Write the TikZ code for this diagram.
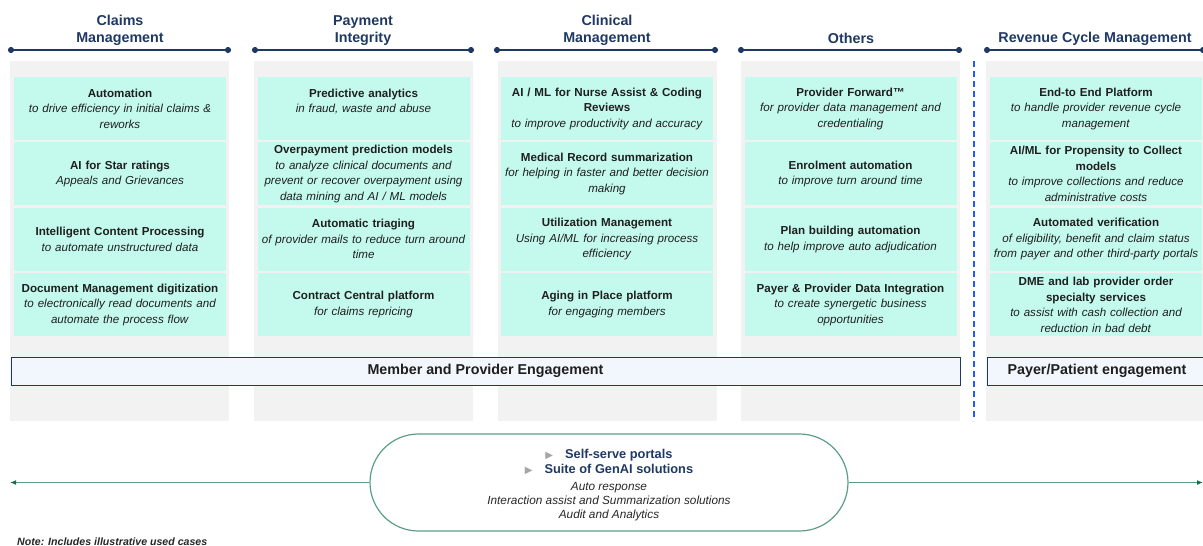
\documentclass[tikz,border=0pt]{standalone}
\usepackage{fontspec}
\setmainfont{Liberation Sans}
\newfontfamily\symfont{DejaVu Sans}
\usetikzlibrary{positioning}
\usetikzlibrary{arrows.meta}
\usetikzlibrary{shapes.misc}

\definecolor{navy}{HTML}{1F3864}
\definecolor{laneGray}{HTML}{F2F2F2}
\definecolor{caseTeal}{HTML}{C4F9EE}
\definecolor{bandBlue}{HTML}{F2F6FD}
\definecolor{sepBlue}{HTML}{1F5BFF}
\definecolor{flowGreen}{HTML}{5A9E89}
\definecolor{tipGreen}{HTML}{1E6B4F}
\definecolor{bulletGray}{HTML}{A6A6A6}

\newcommand{\genaiitem}[1]{{\symfont\color{bulletGray}\fontsize{10}{10}\selectfont ▶}\hspace{12pt}{\bfseries\color{navy}#1}}

\begin{document}
\begin{tikzpicture}[x=1pt, y=-1pt,
    lane/.style={fill=laneGray, minimum width=219pt, minimum height=360pt, inner sep=0pt, anchor=north},
    usecase/.style={fill=caseTeal, text width=211pt, inner xsep=0.5pt, inner ysep=0pt, minimum height=63pt, align=center, text=black!88, font=\fontsize{11.6}{15.5}\selectfont},
    head/.style={text=navy, align=center, font=\fontsize{14.3}{17}\selectfont\bfseries},
    rule/.style={navy, line width=1.6pt, {Circle[length=6pt]}-{Circle[length=6pt]}},
    band/.style={draw=navy, fill=bandBlue, line width=0.8pt, minimum height=28pt, inner sep=0pt, text=black!88, font=\fontsize{14.3}{16}\selectfont\bfseries},
    flow/.style={flowGreen, line width=1.2pt, -{Latex[length=6pt, width=5pt, color=tipGreen]}}
]

\useasboundingbox (0,0) rectangle (1203,546);

% Lanes
\node[lane] (lane1) at (119.5,61) {};
\node[lane] (lane2) at (363.5,61) {};
\node[lane] (lane3) at (607.5,61) {};
\node[lane] (lane4) at (850.5,61) {};
\node[lane] (lane5) at (1095.5,61) {};

% Headings
\node[head] (hclaims) at (120,30.5) {Claims\\Management};
\node[head] (hpay) at (363,30.5) {Payment\\Integrity};
\node[head] (hclin) at (607,30.5) {Clinical\\Management};
\node[head] (hothers) at (851,38.5) {Others};
\node[head] (hrcm) at (1095,38.5) {Revenue Cycle Management};

% Heading rules
\draw[rule] (8,50) -- (231,50);
\draw[rule] (252,50) -- (474,50);
\draw[rule] (494,50) -- (718,50);
\draw[rule] (738,50) -- (962,50);
\draw[rule] (984,50) -- (1206,50);

% Claims Management
\node[usecase] (cm1) at (120,108.5) {\textbf{Automation}\\\textit{to drive efficiency in initial claims \&\\reworks}};
\node[usecase, below=2pt of cm1] (cm2) {\textbf{AI for Star ratings}\\\textit{Appeals and Grievances}};
\node[usecase, below=2pt of cm2] (cm3) {\textbf{Intelligent Content Processing}\\\textit{to automate unstructured data}};
\node[usecase, below=2pt of cm3] (cm4) {\textbf{Document Management digitization}\\\textit{to electronically read documents and\\automate the process flow}};

% Payment Integrity
\node[usecase] (pi1) at (363.5,108.5) {\textbf{Predictive analytics}\\\textit{in fraud, waste and abuse}\\~};
\node[usecase, below=2pt of pi1] (pi2) {\textbf{Overpayment prediction models}\\\textit{to analyze clinical documents and\\prevent or recover overpayment using\\data mining and AI / ML models}};
\node[usecase, below=2pt of pi2] (pi3) {\textbf{Automatic triaging}\\\textit{of provider mails to reduce turn around\\time}};
\node[usecase, below=2pt of pi3] (pi4) {\textbf{Contract Central platform}\\\textit{for claims repricing}};

% Clinical Management
\node[usecase] (cl1) at (607,108.5) {\textbf{AI / ML for Nurse Assist \& Coding\\Reviews}\\\textit{to improve productivity and accuracy}};
\node[usecase, below=2pt of cl1] (cl2) {\textbf{Medical Record summarization}\\\textit{for helping in faster and better decision\\making}};
\node[usecase, below=2pt of cl2] (cl3) {\textbf{Utilization Management}\\\textit{Using AI/ML for increasing process\\efficiency}};
\node[usecase, below=2pt of cl3] (cl4) {\textbf{Aging in Place platform}\\\textit{for engaging members}};

% Others
\node[usecase] (ot1) at (850.5,108.5) {\textbf{Provider Forward™}\\\textit{for provider data management and\\credentialing}};
\node[usecase, below=2pt of ot1] (ot2) {\textbf{Enrolment automation}\\\textit{to improve turn around time}};
\node[usecase, below=2pt of ot2] (ot3) {\textbf{Plan building automation}\\\textit{to help improve auto adjudication}};
\node[usecase, below=2pt of ot3] (ot4) {\textbf{Payer \& Provider Data Integration}\\\textit{to create synergetic business\\opportunities}};

% Revenue Cycle Management
\node[usecase] (rc1) at (1096,108.5) {\textbf{End-to End Platform}\\\textit{to handle provider revenue cycle\\management}};
\node[usecase, below=2pt of rc1] (rc2) {\textbf{AI/ML for Propensity to Collect\\models}\\\textit{to improve collections and reduce\\administrative costs}};
\node[usecase, below=2pt of rc2] (rc3) {\textbf{Automated verification}\\\textit{of eligibility, benefit and claim status\\from payer and other third-party portals}};
\node[usecase, below=2pt of rc3] (rc4) {\textbf{DME and lab provider order\\specialty services}\\\textit{to assist with cash collection and\\reduction in bad debt}};

% Separator
\draw[sepBlue, line width=1.5pt, dash pattern=on 6pt off 4pt] (974,61) -- (974,421);

% Engagement bands
\node[band, minimum width=949pt] (mpe) at (485.5,371) {Member and Provider Engagement};
\node[band, minimum width=220pt] (ppe) at (1097,371) {Payer/Patient engagement};

% GenAI
\node[rounded rectangle, draw=flowGreen, line width=1.2pt, minimum width=478pt, minimum height=97pt, inner sep=0pt, align=center, text=black!85, font=\fontsize{12.8}{16}\selectfont] (genai) at (609,482.5)
  {\rule{0pt}{13.5pt}\genaiitem{Self-serve portals}\\[-1pt]
   \genaiitem{Suite of GenAI solutions}\\[1pt]
   \fontsize{11.8}{14}\selectfont\itshape Auto response\\[-2pt]
   \fontsize{11.8}{14}\selectfont\itshape Interaction assist and Summarization solutions\\[-2pt]
   \fontsize{11.8}{14}\selectfont\itshape Audit and Analytics};
\coordinate (westEnd) at (10,482.5);
\coordinate (eastEnd) at (1203,482.5);
\draw[flow] (genai.west) -- (westEnd);
\draw[flow] (genai.east) -- (eastEnd);

% Note
\node[anchor=base west, inner sep=0pt, text=black!85, font=\fontsize{10.6}{12}\selectfont\bfseries\itshape] (note) at (17,545) {Note: Includes illustrative used cases};

\end{tikzpicture}
\end{document}
